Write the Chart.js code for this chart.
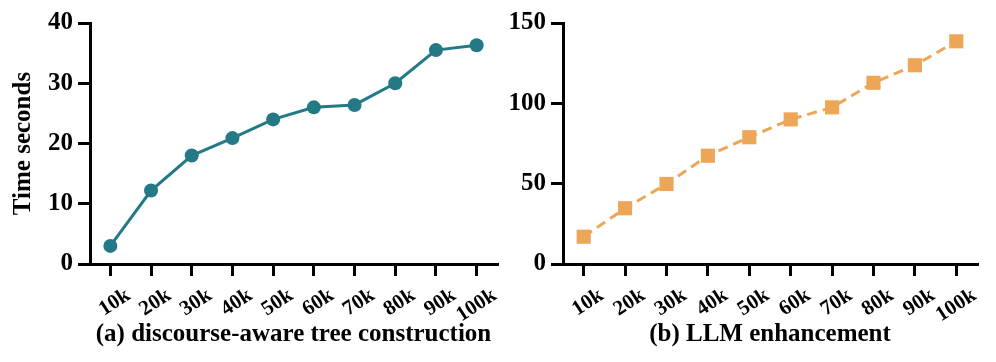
<!DOCTYPE html>
<html>
<head>
<meta charset="utf-8">
<script src="https://cdn.jsdelivr.net/npm/chart.js@4"></script>
<style>
  html, body { margin: 0; padding: 0; background: #fff; }
  #wrap { position: relative; width: 996px; height: 362px; }
  .box { position: absolute; top: 0; height: 362px; }
  #boxA { left: 0; width: 504px; }
  #boxB { left: 500px; width: 496px; }
</style>
</head>
<body>
<div id="wrap">
  <div class="box" id="boxA"><canvas id="chartA"></canvas></div>
  <div class="box" id="boxB"><canvas id="chartB"></canvas></div>
</div>
<script>
const sizes = ['10k', '20k', '30k', '40k', '50k', '60k', '70k', '80k', '90k', '100k']
const treeTime = [3.0, 12.2, 18.0, 20.9, 24.0, 26.0, 26.4, 30.0, 35.5, 36.3]
const llmTime = [17.0, 34.7, 49.8, 67.4, 78.9, 90.0, 97.5, 112.8, 123.7, 138.6]
const ticksA = [0, 10, 20, 30, 40]
const ticksB = [0, 50, 100, 150]

const serif = "'Liberation Serif', 'Times New Roman', serif"

function makeChart(id, values, opts) {
    const ctx = document.getElementById(id).getContext('2d')
    return new Chart(ctx, {
        type: 'line',
        data: {
            labels: sizes,
            datasets: [{
                data: values,
                borderColor: opts.color,
                backgroundColor: opts.color,
                borderWidth: 3,
                borderDash: opts.dash,
                pointStyle: opts.point,
                pointRadius: opts.radius,
                pointBorderWidth: 0,
                tension: 0
            }]
        },
        options: {
            responsive: true,
            maintainAspectRatio: false,
            animation: false,
            layout: { padding: opts.padding },
            plugins: {
                legend: { display: false },
                tooltip: { enabled: false }
            },
            scales: {
                x: {
                    offset: true,
                    grid: { offset: false, drawOnChartArea: false, drawTicks: true, tickLength: 12, lineWidth: 3, color: '#000' },
                    border: { display: true, width: 3, color: '#000' },
                    ticks: {
                        color: '#000',
                        font: { family: serif, size: 21, weight: 'bold' },
                        autoSkip: false,
                        minRotation: 33,
                        maxRotation: 33,
                        labelOffset: 18,
                        padding: 7
                    },
                    title: {
                        display: true,
                        text: opts.xTitle,
                        color: '#000',
                        font: { family: serif, size: 25, weight: 'bold' },
                        padding: { top: 0, bottom: 12 }
                    },
                    afterFit: s => { s.height = 98 }
                },
                y: {
                    min: 0,
                    max: opts.yTicks[opts.yTicks.length - 1],
                    afterBuildTicks: s => { s.ticks = opts.yTicks.map(v => ({ value: v })) },
                    grid: { drawOnChartArea: false, drawTicks: true, tickLength: 12, lineWidth: 3, color: '#000' },
                    border: { display: true, width: 3, color: '#000' },
                    ticks: {
                        color: '#000',
                        font: { family: serif, size: 25, weight: 'bold' },
                        padding: 5
                    },
                    title: {
                        display: !!opts.yTitle,
                        text: opts.yTitle,
                        color: '#000',
                        font: { family: serif, size: 25, weight: 'bold' },
                        padding: { top: 9, bottom: 0 }
                    },
                    afterFit: s => { s.width = opts.yWidth }
                }
            }
        }
    })
}

makeChart('chartA', treeTime, {
    color: '#237a86', dash: [], point: 'circle', radius: 7,
    padding: { left: 0, right: 0, top: 23, bottom: 0 },
    xTitle: '(a) discourse-aware tree construction', yTitle: 'Time seconds',
    yTicks: ticksA, yWidth: 90
})

makeChart('chartB', llmTime, {
    color: '#eda657', dash: [10, 6], point: 'rect', radius: 10,
    padding: { left: 0, right: 19, top: 23, bottom: 0 },
    xTitle: '(b) LLM enhancement', yTitle: '',
    yTicks: ticksB, yWidth: 63
})
</script>
</body>
</html>
